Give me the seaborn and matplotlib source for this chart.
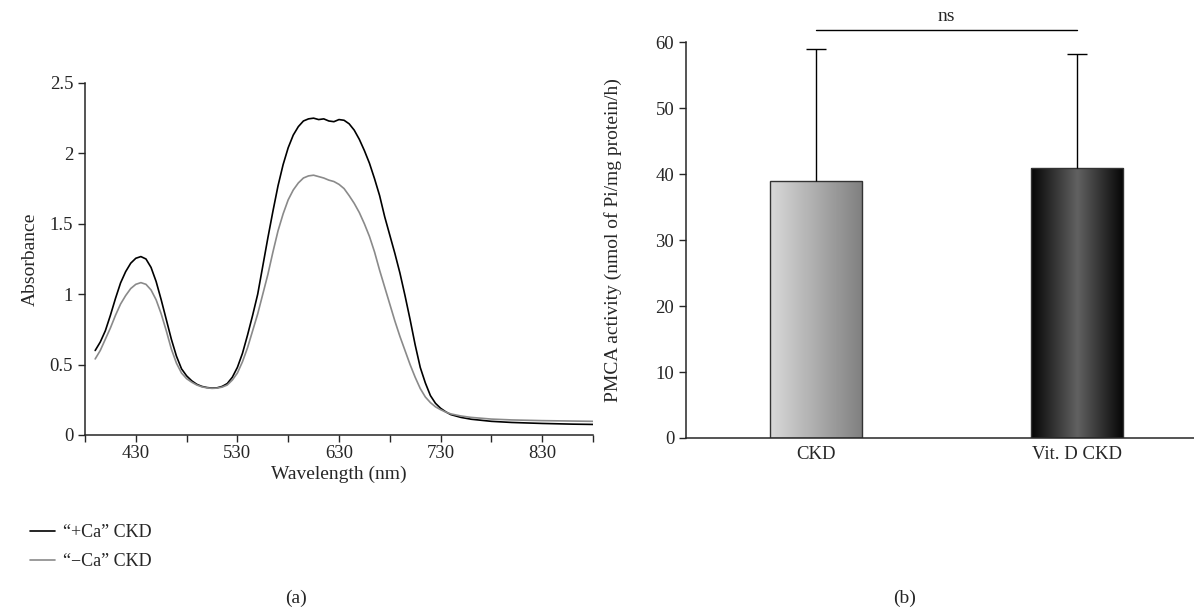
import numpy as np
import pandas as pd
import matplotlib
matplotlib.use("Agg")
from matplotlib import pyplot as plt
from matplotlib.lines import Line2D
import seaborn as sns

# panel (a): spectra
wavelength = [390, 395, 400, 405, 410, 415, 420, 425, 430, 435,
              440, 445, 450, 455, 460, 465, 470, 475, 480, 485,
              490, 495, 500, 505, 510, 515, 520, 525, 530, 535,
              540, 545, 550, 555, 560, 565, 570, 575, 580, 585,
              590, 595, 600, 605, 610, 615, 620, 625, 630, 635,
              640, 645, 650, 655, 660, 665, 670, 675, 680, 685,
              690, 695, 700, 705, 710, 715, 720, 725, 730, 735,
              740, 750, 760, 780, 800, 830, 860, 880]
plus_ca = [0.60, 0.66, 0.74, 0.85, 0.97, 1.08, 1.16, 1.22, 1.255, 1.267,
           1.25, 1.19, 1.09, 0.96, 0.82, 0.68, 0.56, 0.47, 0.42, 0.385,
           0.36, 0.345, 0.337, 0.333, 0.335, 0.345, 0.365, 0.41, 0.48, 0.58,
           0.71, 0.85, 1.00, 1.20, 1.40, 1.59, 1.77, 1.92, 2.04, 2.13,
           2.19, 2.23, 2.245, 2.25, 2.24, 2.245, 2.23, 2.225, 2.24, 2.235,
           2.21, 2.165, 2.10, 2.02, 1.93, 1.82, 1.70, 1.55, 1.42, 1.29,
           1.15, 0.99, 0.82, 0.64, 0.48, 0.37, 0.28, 0.225, 0.19, 0.165,
           0.145, 0.125, 0.112, 0.097, 0.089, 0.082, 0.077, 0.075]
minus_ca = [0.54, 0.60, 0.68, 0.76, 0.85, 0.93, 0.99, 1.04, 1.07, 1.082,
            1.07, 1.03, 0.96, 0.86, 0.74, 0.61, 0.51, 0.44, 0.40, 0.375,
            0.355, 0.342, 0.335, 0.331, 0.333, 0.34, 0.355, 0.39, 0.44, 0.52,
            0.62, 0.74, 0.86, 1.00, 1.14, 1.30, 1.45, 1.57, 1.67, 1.74,
            1.79, 1.825, 1.84, 1.845, 1.835, 1.825, 1.81, 1.80, 1.78, 1.75,
            1.70, 1.645, 1.58, 1.50, 1.41, 1.30, 1.17, 1.05, 0.93, 0.81,
            0.70, 0.60, 0.50, 0.41, 0.33, 0.27, 0.23, 0.20, 0.18, 0.163,
            0.15, 0.135, 0.125, 0.113, 0.107, 0.102, 0.099, 0.097]
series_names = ["\u201c+Ca\u201d CKD", "\u201c\u2212Ca\u201d CKD"]

# panel (b): PMCA activity
groups = ["CKD", "Vit. D CKD"]
activity = [39.0, 41.0]
activity_err = [20.0, 17.2]

sns.set_style("ticks")
plt.rcParams["font.family"] = ["Liberation Serif", "DejaVu Serif"]
plt.rcParams["font.size"] = 14
plt.rcParams["xtick.labelsize"] = 13.5
plt.rcParams["ytick.labelsize"] = 13.5

fig = plt.figure(figsize=(11.94, 6.10), dpi=100)
ax1 = fig.add_axes([0.0712, 0.2869, 0.4254, 0.5771])
ax2 = fig.add_axes([0.5745, 0.2820, 0.4255, 0.6487])

# spectra
spectra = pd.DataFrame({
    "Wavelength": wavelength * 2,
    "Absorbance": plus_ca + minus_ca,
    "Sample": [series_names[0]] * len(wavelength) + [series_names[1]] * len(wavelength),
})
sns.lineplot(data=spectra, x="Wavelength", y="Absorbance", hue="Sample",
             palette=["#000000", "#8a8a8a"], estimator=None, sort=False,
             linewidth=1.2, legend=False, ax=ax1)
ax1.set_xlim(380, 880)
ax1.set_ylim(0, 2.5)
ax1.set_xticks(range(380, 881, 50))
ax1.set_xticklabels(["" if (t - 430) % 100 else str(t) for t in range(380, 881, 50)])
ax1.set_yticks([0, 0.5, 1, 1.5, 2, 2.5])
ax1.set_yticklabels(["0", "0.5", "1", "1.5", "2", "2.5"])
ax1.set_xlabel("Wavelength (nm)", labelpad=3)
ax1.set_ylabel("Absorbance", labelpad=8)
sns.despine(ax=ax1)

handles = [Line2D([], [], color="#000000", lw=1.2), Line2D([], [], color="#8a8a8a", lw=1.2)]
fig.legend(handles, series_names, loc="upper left", bbox_to_anchor=(0.025, 0.141),
           frameon=False, fontsize=13, borderpad=0, borderaxespad=0,
           handlelength=1.4, handletextpad=0.45, labelspacing=0.67)

# bars
bars = pd.DataFrame({"Group": groups, "Activity": activity})
sns.barplot(data=bars, x="Group", y="Activity", color="white", edgecolor="#333333",
            linewidth=1.0, width=0.355, errorbar=None, ax=ax2)
eb = ax2.errorbar(range(len(groups)), activity, yerr=[[0] * len(groups), activity_err],
                  fmt="none", ecolor="black", elinewidth=1.0, capsize=7.5, capthick=1.0, zorder=1)
eb[1][0].set_visible(False)  # no cap at bar top

grad_light = np.linspace(0.85, 0.50, 256)[None, :]
grad_dark = np.concatenate([np.linspace(0.02, 0.38, 128), np.linspace(0.38, 0.02, 128)])[None, :]
for patch, grad in zip(ax2.patches, [grad_light, grad_dark]):
    x0, y0 = patch.get_x(), patch.get_y()
    w, h = patch.get_width(), patch.get_height()
    img = ax2.imshow(grad, cmap="gray", vmin=0, vmax=1, aspect="auto",
                     extent=[x0, x0 + w, y0, y0 + h], zorder=patch.get_zorder() - 0.1)
    img.set_clip_path(patch)
    patch.set_facecolor("none")

ax2.set_xlim(-0.5, 1.45)
ax2.set_ylim(0, 60)
ax2.set_yticks(range(0, 61, 10))
ax2.set_xlabel("")
ax2.set_ylabel("PMCA activity (nmol of Pi/mg protein/h)", labelpad=24)
sns.despine(ax=ax2)

# significance line
ax2.plot([0, 1], [61.9, 61.9], color="black", lw=1.0, clip_on=False)
ax2.text(0.5, 62.6, "ns", ha="center", va="bottom")

for spine_ax in (ax1, ax2):
    for s in ("left", "bottom"):
        spine_ax.spines[s].set_linewidth(1.1)
    spine_ax.tick_params(width=1.0, length=5, direction="out")
ax1.tick_params(axis="x", pad=2)
ax2.tick_params(axis="x", length=0, pad=6)

fig.text(0.248, 0.005, "(a)", ha="center", va="bottom")
fig.text(0.758, 0.005, "(b)", ha="center", va="bottom")

fig.savefig("out.png", dpi=100)
